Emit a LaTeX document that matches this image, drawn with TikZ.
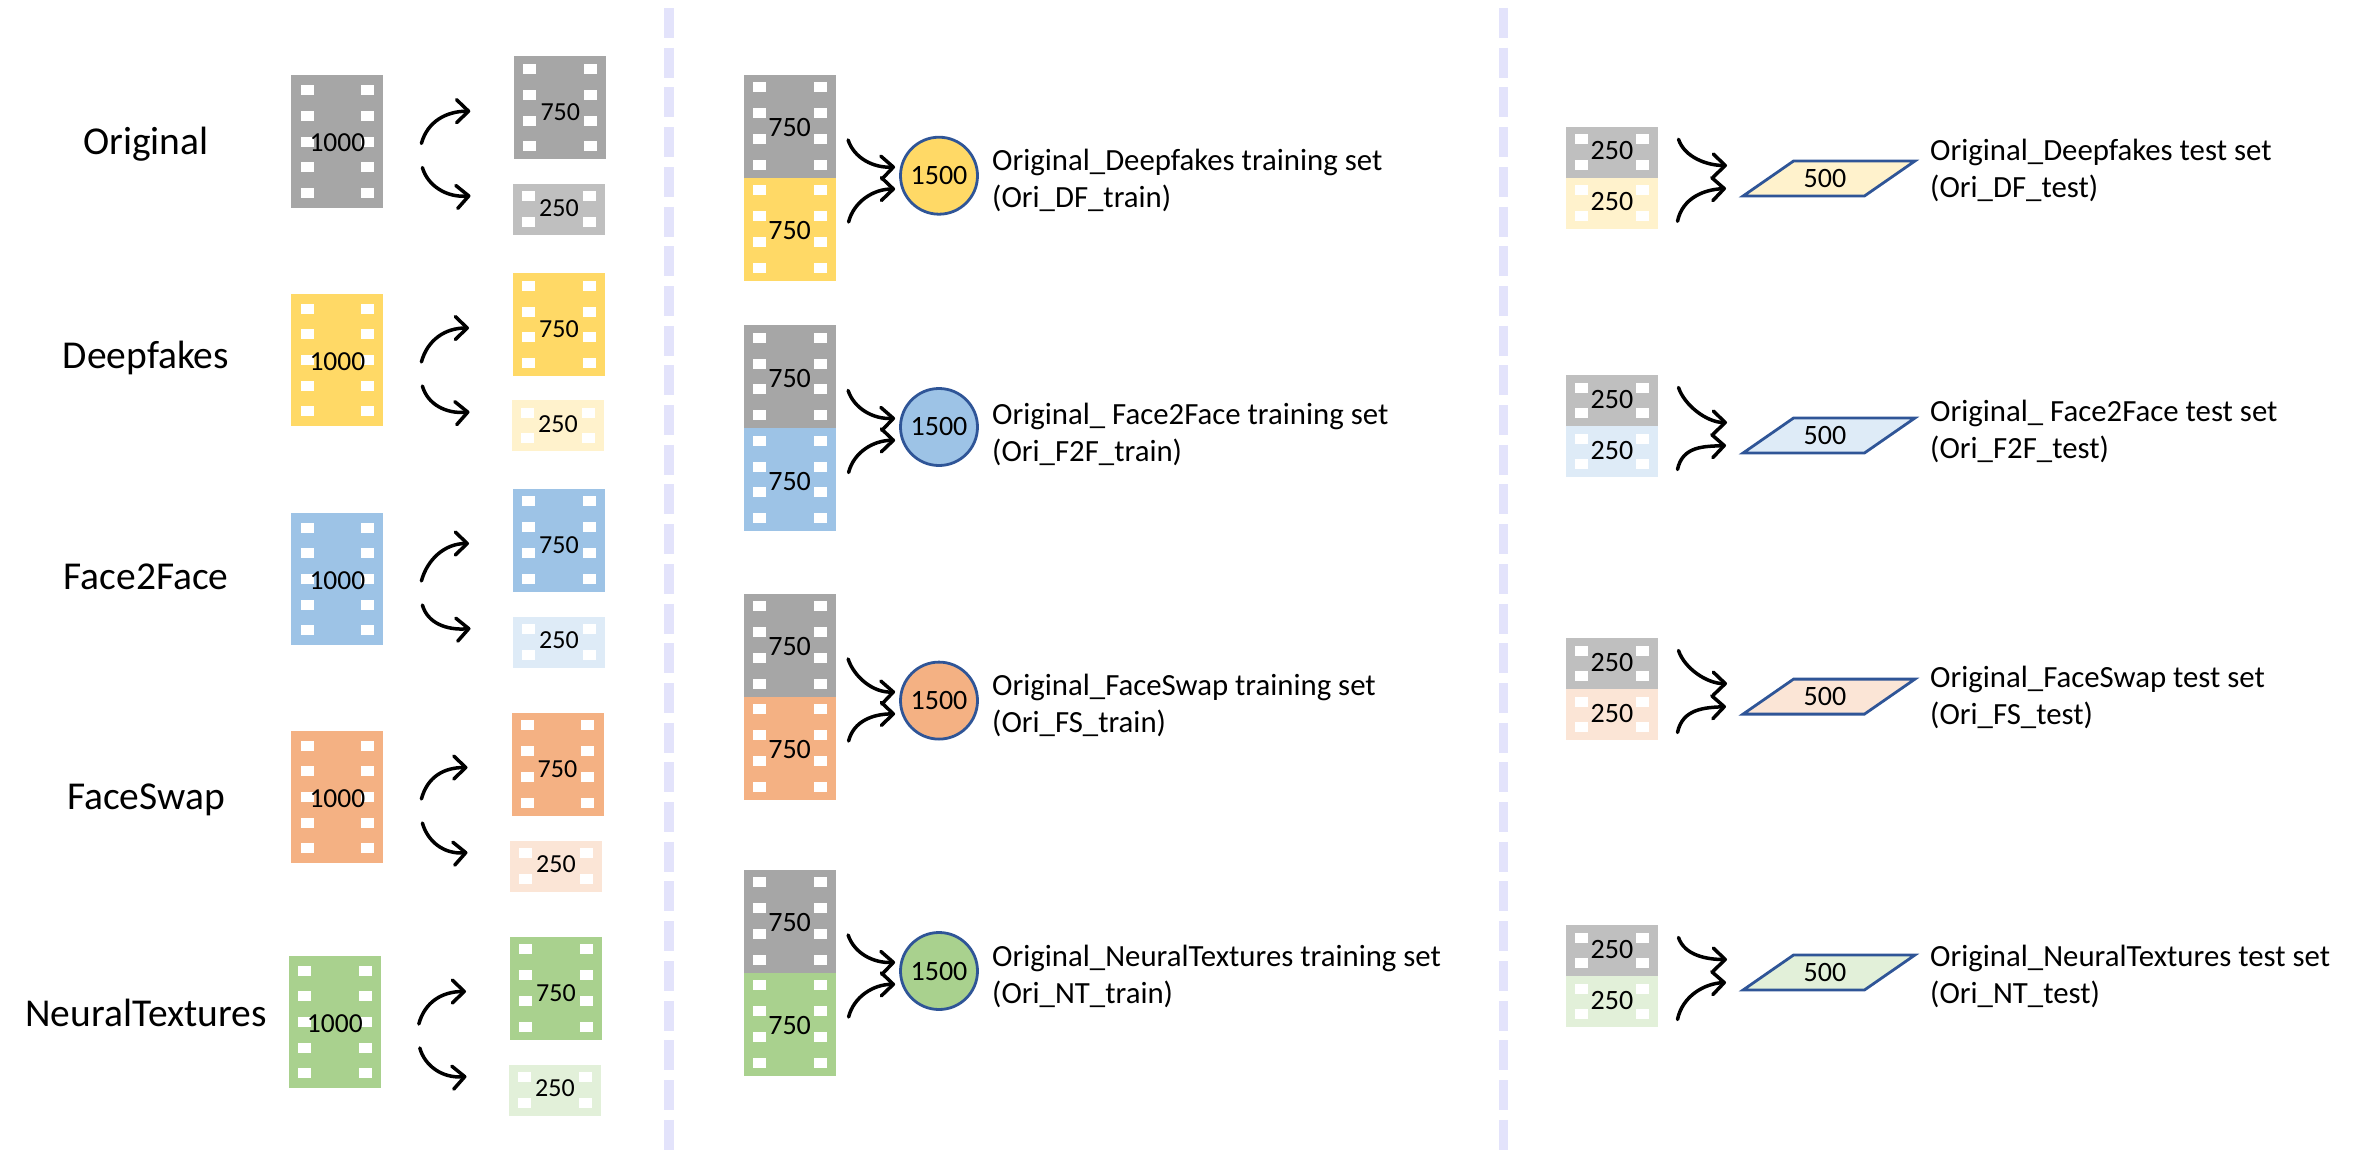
\documentclass[tikz,border=0pt]{standalone}
\usepackage{xcolor}
\usepackage{fontspec}
\setmainfont{Carlito}
\usepackage{tikz}
\usetikzlibrary{calc,arrows.meta,shapes.geometric}
\definecolor{filmGray}{HTML}{A6A6A6}
\definecolor{filmGrayLight}{HTML}{BFBFBF}
\definecolor{filmYellow}{HTML}{FFD966}
\definecolor{filmYellowLight}{HTML}{FFF2CC}
\definecolor{filmBlue}{HTML}{9DC3E6}
\definecolor{filmBlueLight}{HTML}{DEEBF7}
\definecolor{filmOrange}{HTML}{F4B183}
\definecolor{filmOrangeLight}{HTML}{FBE5D6}
\definecolor{filmGreen}{HTML}{A9D18E}
\definecolor{filmGreenLight}{HTML}{E2F0D9}
\definecolor{setBorder}{HTML}{2F5597}
\definecolor{splitLine}{HTML}{E3E3FB}
\tikzset{
  filmbase/.style={rectangle,inner sep=0pt,outer sep=0pt,minimum width=92pt},
  holes/.style={path picture={
    \foreach \side in {-30.4,30.4}
      \foreach \k in {1,...,#1}
        \fill[white] ($(path picture bounding box.center)+(\side,{25.7*(\k-(#1+1)/2)})$) +(-6.5,-5) rectangle +(6.5,5);
  }},
  film1000/.style={filmbase,minimum height=132.4pt,holes=5,text height=20.5pt,text depth=0pt,font=\fontsize{27.5}{30}\selectfont},
  film750/.style={filmbase,minimum height=103pt,holes=4,text height=21.5pt,text depth=0pt,font=\fontsize{28}{30}\selectfont},
  film750small/.style={film750,text height=26.5pt,font=\fontsize{26}{30}\selectfont},
  film250/.style={filmbase,minimum height=51pt,holes=2,text depth=3pt,font=\fontsize{28}{30}\selectfont},
  film250small/.style={film250,font=\fontsize{26}{30}\selectfont},
  flow/.style={draw=black,line width=3.5pt,line cap=round,-{Straight Barb[length=12pt,width=23pt,round]}},
  trainset/.style={circle,draw=setBorder,line width=2.8pt,minimum size=77pt,inner sep=0pt,font=\fontsize{28}{30}\selectfont},
  testset/.style={trapezium,trapezium left angle=27,trapezium right angle=153,trapezium stretches=true,
    draw=setBorder,line width=2.8pt,minimum width=172pt,minimum height=35pt,inner sep=0pt,font=\fontsize{28}{30}\selectfont},
  setlabel/.style={anchor=west,inner sep=0pt,align=left,font=\fontsize{30.8}{37}\selectfont},
  classlabel/.style={anchor=base,inner sep=0pt,font=\fontsize{39.5}{42}\selectfont},
  splitter/.style={draw=splitLine,line width=9.5pt,dash pattern=on 30pt off 9.7pt}
}
\begin{document}
\begin{tikzpicture}[x=1pt,y=-1pt]
\useasboundingbox (0,0) rectangle (2354,1154);

% dividers between the three columns
\draw[splitter] (669,8) -- (669,1154);
\draw[splitter] (1503.7,8) -- (1503.7,1154);

% source videos split in two parts
\foreach \nm/\lab/\col/\lite/\xa/\ya/\xb/\yb/\xc/\yc/\ybase in {
  ori/Original/filmGray/filmGrayLight/337.4/141.5/560.3/107.7/559/209.3/154,
  df/Deepfakes/filmYellow/filmYellowLight/337.4/360/559/324.5/558/425.5/368,
  ftf/Face2Face/filmBlue/filmBlueLight/337.4/579/559/540/559/642/589,
  fs/FaceSwap/filmOrange/filmOrangeLight/337.4/797/557.5/764/556/866/809,
  nt/NeuralTextures/filmGreen/filmGreenLight/334.8/1022/556/988/555/1090/1026}{
  \node[classlabel] (\nm-name) at (146,\ybase) {\lab};
  \node[film1000,fill=\col] (\nm) at (\xa,\ya) {1000};
  \node[film750small,fill=\col] (\nm-750) at (\xb,\yb) {750};
  \node[film250small,fill=\lite] (\nm-250) at (\xc,\yc) {250};
  \draw[flow] ($(\nm.east)+(38,2)$) .. controls +(6,-22) and +(-24,0) .. ($(\nm-750.west)+(-44,3.5)$);
  \draw[flow] ($(\nm.east)+(39,26)$) .. controls +(5,18) and +(-24,2) .. ($(\nm-250.west)+(-42.5,-13.5)$);
}

% training sets
\foreach \nm/\col/\title/\short/\yg/\ys/\yl in {
  df/filmYellow/Original\_Deepfakes/Ori\_DF\_train/126/175.7/180,
  ftf/filmBlue/Original\_ Face2Face/Ori\_F2F\_train/376.5/427/434,
  fs/filmOrange/Original\_FaceSwap/Ori\_FS\_train/645/700.6/705,
  nt/filmGreen/Original\_NeuralTextures/Ori\_NT\_train/921/971/976.5}{
  \node[film750,fill=filmGray] (\nm-traina) at (789.6,\yg) {750};
  \node[film750,fill=\col,anchor=north] (\nm-trainb) at (\nm-traina.south) {750};
  \node[trainset,fill=\col] (\nm-train) at (939,\ys) {1500};
  \node[setlabel] (\nm-trainname) at (992,\yl) {\title{} training set\\(\short)};
  \draw[flow] ($(\nm-traina.east)+(12.5,14)$) .. controls +(6,18) and +(-22,1) .. ($(\nm-train.west)+(-4,-8.7)$);
  \draw[flow] ($(\nm-trainb.east)+(13,-7)$) .. controls +(5,-20) and +(-22,0) .. ($(\nm-train.west)+(-4,13.3)$);
}

% test sets
\foreach \nm/\lite/\title/\short/\yg/\ys/\yl in {
  df/filmYellowLight/Original\_Deepfakes/Ori\_DF\_test/152.3/178.5/170,
  ftf/filmBlueLight/Original\_ Face2Face/Ori\_F2F\_test/400.5/435.5/431,
  fs/filmOrangeLight/Original\_FaceSwap/Ori\_FS\_test/663.5/696.6/697,
  nt/filmGreenLight/Original\_NeuralTextures/Ori\_NT\_test/950.5/972.5/976.5}{
  \node[film250,fill=filmGrayLight] (\nm-testa) at (1612,\yg) {250};
  \node[film250,fill=\lite,anchor=north] (\nm-testb) at (\nm-testa.south) {250};
  \node[testset,fill=\lite] (\nm-test) at (1829,\ys) {500\hspace{8pt}\null};
  \node[setlabel] (\nm-testname) at (1930,\yl) {\title{} test set\\(\short)};
  \draw[flow] ($(\nm-testa.east)+(20.5,-13)$) .. controls +(6,18) and +(-20,0) .. ($(\nm-test.center)+(-102,-13)$);
  \draw[flow] ($(\nm-testb.east)+(19.5,18)$) .. controls +(5,-24) and +(-21,1) .. ($(\nm-test.center)+(-103,10)$);
}
\end{tikzpicture}
\end{document}
